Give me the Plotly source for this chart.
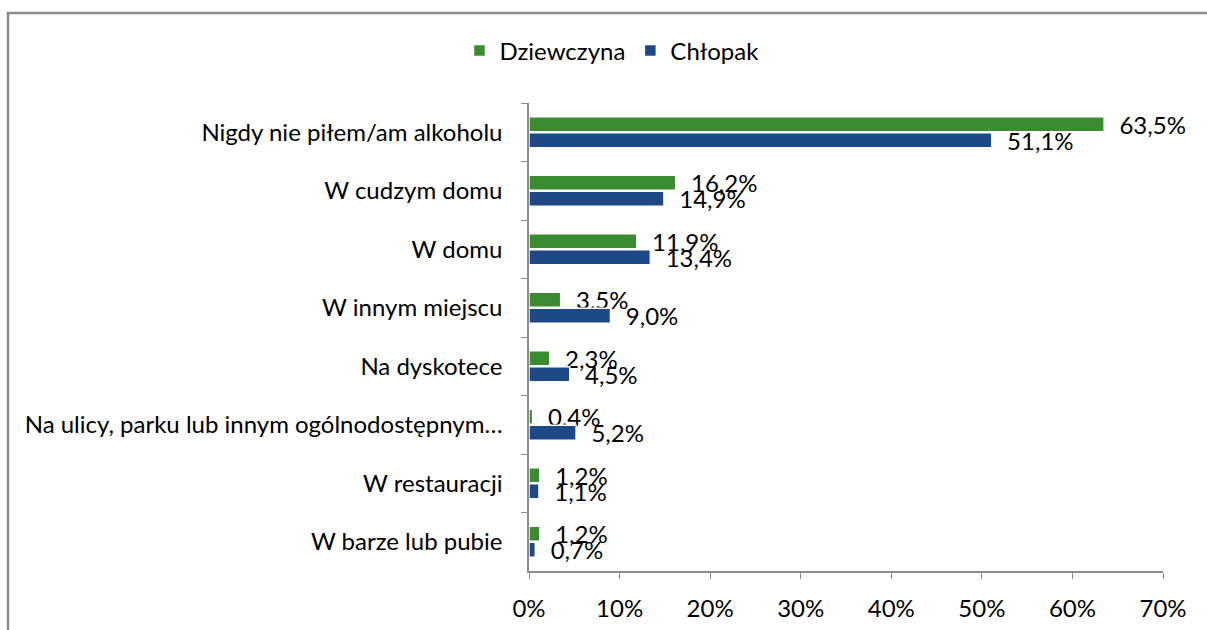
import plotly.graph_objects as go

categories = [
    "Nigdy nie piłem/am alkoholu",
    "W cudzym domu",
    "W domu",
    "W innym miejscu",
    "Na dyskotece",
    "Na ulicy, parku lub innym ogólnodostępnym…",
    "W restauracji",
    "W barze lub pubie",
]
dziewczyna = [63.5, 16.2, 11.9, 3.5, 2.3, 0.4, 1.2, 1.2]
chlopak = [51.1, 14.9, 13.4, 9.0, 4.5, 5.2, 1.1, 0.7]
x_ticks = [0, 10, 20, 30, 40, 50, 60, 70]
x_tick_labels = [f"{v}%" for v in x_ticks]

FONT = "Lato"
GREEN = "#3b8b30"
BLUE = "#1d4a87"

fig = go.Figure()
for name, vals, col in [("Dziewczyna", dziewczyna, GREEN), ("Chłopak", chlopak, BLUE)]:
    fig.add_trace(go.Bar(
        y=categories, x=vals, name=name, orientation="h",
        marker=dict(color=col, line=dict(color="white", width=1.5)),
        text=["  " + f"{v:.1f}".replace(".", ",") + "%" for v in vals],
        textposition="outside", cliponaxis=False, constraintext="none",
        textfont=dict(family=FONT, size=24, color="black"),
    ))

fig.update_layout(
    width=1207, height=630,
    margin=dict(l=529, r=44, t=103, b=59),
    paper_bgcolor="white", plot_bgcolor="white",
    barmode="group", bargap=0.46, bargroupgap=0.05,
    font=dict(family=FONT, size=24, color="black"),
    legend=dict(orientation="h", xref="container", yref="container",
                x=612 / 1207, xanchor="center", y=1 - 51 / 630, yanchor="middle",
                font=dict(family=FONT, size=24), traceorder="normal"),
    xaxis=dict(range=[0, 70], tickvals=x_ticks, ticktext=x_tick_labels,
               showgrid=False, zeroline=False, showline=True, linecolor="#8c8c8c",
               linewidth=1.5, ticks="outside", ticklen=6, tickcolor="#8c8c8c",
               ticklabelstandoff=9, tickfont=dict(size=24), automargin=False),
    yaxis=dict(autorange="reversed", showgrid=False, showline=True,
               linecolor="#8c8c8c", linewidth=1.5, ticks="outside", ticklen=6,
               tickcolor="#8c8c8c", tickson="boundaries", ticklabelstandoff=20,
               tickfont=dict(size=24), automargin=False),
    shapes=[dict(type="rect", xref="paper", yref="paper",
                 x0=(8 - 529) / 634, x1=(1225 - 529) / 634,
                 y0=-(650 - 571) / 468, y1=1 + (103 - 13) / 468,
                 line=dict(color="#8c8c8c", width=2.5), layer="below")],
)

fig.write_html("out.html", config={"displayModeBar": False},
               post_script="document.body.style.margin='0';document.body.style.overflow='hidden';")
